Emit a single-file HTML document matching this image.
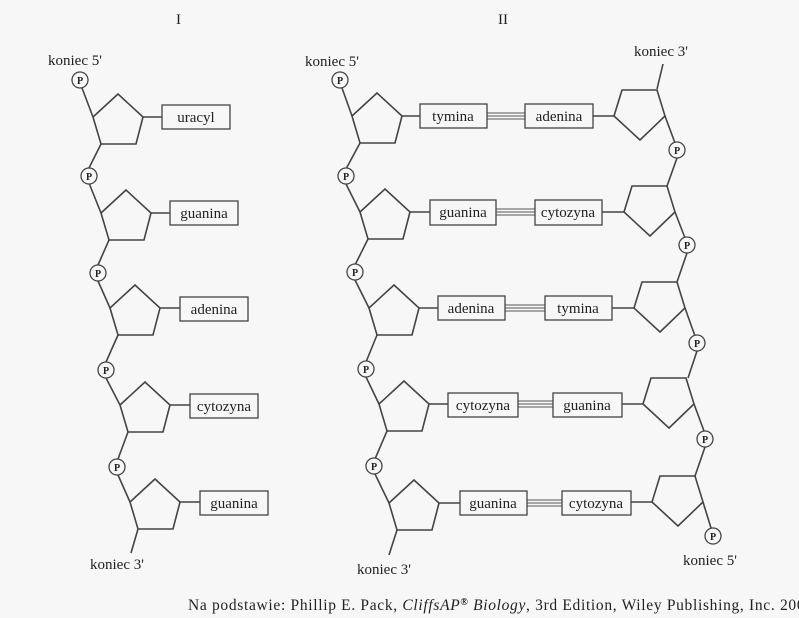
<!DOCTYPE html>
<html><head><meta charset="utf-8"><style>
html,body{margin:0;padding:0;background:#f7f7f7;}
svg{display:block}
text{font-family:"Liberation Serif",serif;fill:#222}
</style></head><body>
<svg width="799" height="618" viewBox="0 0 799 618" xmlns="http://www.w3.org/2000/svg">
<defs>
<g id="L"><polygon points="0,0 25,-23 50,0 43,27 8,27" fill="none" stroke="#444" stroke-width="1.6"/></g>
<g id="R"><polygon points="0,0 8,-26 43,-26 51,0 26,24" fill="none" stroke="#444" stroke-width="1.6"/></g>
</defs>
<rect width="799" height="618" fill="#f7f7f7"/>
<g stroke="#444" stroke-width="1.6" fill="none">
<line x1="82" y1="88" x2="93" y2="117"/><line x1="101" y1="144" x2="89" y2="168"/>
<line x1="89" y1="183" x2="101" y2="213"/><line x1="109" y1="240" x2="98" y2="265"/>
<line x1="98" y1="281" x2="110" y2="308"/><line x1="118" y1="335" x2="106" y2="362"/>
<line x1="106" y1="378" x2="120" y2="405"/><line x1="128" y1="432" x2="118" y2="459"/>
<line x1="118" y1="475" x2="130" y2="502"/><line x1="138" y1="529" x2="131" y2="553"/>
<line x1="143" y1="117" x2="162" y2="117"/><line x1="151" y1="213" x2="170" y2="213"/>
<line x1="160" y1="308" x2="180" y2="308"/><line x1="170" y1="405" x2="190" y2="405"/>
<line x1="180" y1="502" x2="200" y2="502"/>
<line x1="342" y1="88" x2="352" y2="116"/><line x1="360" y1="143" x2="346" y2="169"/>
<line x1="346" y1="184" x2="360" y2="212"/><line x1="368" y1="239" x2="355" y2="265"/>
<line x1="355" y1="280" x2="369" y2="308"/><line x1="377" y1="335" x2="366" y2="362"/>
<line x1="366" y1="377" x2="379" y2="404"/><line x1="387" y1="431" x2="375" y2="459"/>
<line x1="375" y1="474" x2="389" y2="503"/><line x1="397" y1="530" x2="389" y2="555"/>
<line x1="657" y1="89" x2="663" y2="64"/>
<line x1="665" y1="116" x2="675" y2="143"/><line x1="677" y1="158" x2="667" y2="186"/>
<line x1="675" y1="212" x2="685" y2="238"/><line x1="687" y1="253" x2="677" y2="282"/>
<line x1="685" y1="308" x2="695" y2="336"/><line x1="697" y1="351" x2="688" y2="378"/>
<line x1="694" y1="404" x2="704" y2="431"/><line x1="705" y1="447" x2="695" y2="476"/>
<line x1="703" y1="502" x2="711" y2="528"/>
<line x1="402" y1="116" x2="420" y2="116"/><line x1="593" y1="116" x2="614" y2="116"/>
<line x1="410" y1="212" x2="430" y2="212"/><line x1="602" y1="212" x2="624" y2="212"/>
<line x1="419" y1="308" x2="438" y2="308"/><line x1="612" y1="308" x2="634" y2="308"/>
<line x1="429" y1="404" x2="448" y2="404"/><line x1="622" y1="404" x2="643" y2="404"/>
<line x1="439" y1="503" x2="460" y2="503"/><line x1="631" y1="502" x2="652" y2="502"/>
</g>
<g stroke="#555" stroke-width="1">
<line x1="487" y1="113" x2="525" y2="113"/><line x1="487" y1="116" x2="525" y2="116"/><line x1="487" y1="119" x2="525" y2="119"/>
<line x1="496" y1="209" x2="535" y2="209"/><line x1="496" y1="212" x2="535" y2="212"/><line x1="496" y1="215" x2="535" y2="215"/>
<line x1="505" y1="305" x2="545" y2="305"/><line x1="505" y1="308" x2="545" y2="308"/><line x1="505" y1="311" x2="545" y2="311"/>
<line x1="518" y1="401" x2="553" y2="401"/><line x1="518" y1="404" x2="553" y2="404"/><line x1="518" y1="407" x2="553" y2="407"/>
<line x1="527" y1="500" x2="562" y2="500"/><line x1="527" y1="503" x2="562" y2="503"/><line x1="527" y1="506" x2="562" y2="506"/>
</g>
<use href="#L" x="93" y="117"/><use href="#L" x="101" y="213"/><use href="#L" x="110" y="308"/><use href="#L" x="120" y="405"/><use href="#L" x="130" y="502"/>
<use href="#L" x="352" y="116"/><use href="#L" x="360" y="212"/><use href="#L" x="369" y="308"/><use href="#L" x="379" y="404"/><use href="#L" x="389" y="503"/>
<use href="#R" x="614" y="116"/><use href="#R" x="624" y="212"/><use href="#R" x="634" y="308"/><use href="#R" x="643" y="404"/><use href="#R" x="652" y="502"/>
<g fill="#f7f7f7" stroke="#444" stroke-width="1.3">
<rect x="162" y="105" width="68" height="24"/><rect x="170" y="201" width="68" height="24"/>
<rect x="180" y="297" width="68" height="24"/><rect x="190" y="394" width="68" height="24"/>
<rect x="200" y="491" width="68" height="24"/>
<rect x="420" y="104" width="67" height="24"/><rect x="525" y="104" width="68" height="24"/>
<rect x="430" y="200" width="66" height="25"/><rect x="535" y="200" width="67" height="25"/>
<rect x="438" y="296" width="67" height="24"/><rect x="545" y="296" width="67" height="24"/>
<rect x="448" y="393" width="70" height="24"/><rect x="553" y="393" width="69" height="24"/>
<rect x="460" y="491" width="67" height="24"/><rect x="562" y="491" width="69" height="24"/>
</g>
<g font-size="15" text-anchor="middle">
<text x="196" y="122">uracyl</text><text x="204" y="218">guanina</text><text x="214" y="314">adenina</text>
<text x="224" y="411">cytozyna</text><text x="234" y="508">guanina</text>
<text x="453" y="121">tymina</text><text x="559" y="121">adenina</text>
<text x="463" y="217">guanina</text><text x="568" y="217">cytozyna</text>
<text x="471" y="313">adenina</text><text x="578" y="313">tymina</text>
<text x="483" y="410">cytozyna</text><text x="587" y="410">guanina</text>
<text x="493" y="508">guanina</text><text x="596" y="508">cytozyna</text>
</g>
<g fill="#f7f7f7" stroke="#444" stroke-width="1.3">
<circle cx="80" cy="80" r="8"/><circle cx="89" cy="176" r="8"/><circle cx="98" cy="273" r="8"/><circle cx="106" cy="370" r="8"/><circle cx="117" cy="467" r="8"/>
<circle cx="340" cy="80" r="8"/><circle cx="346" cy="176" r="8"/><circle cx="355" cy="272" r="8"/><circle cx="366" cy="369" r="8"/><circle cx="374" cy="466" r="8"/>
<circle cx="677" cy="150" r="8"/><circle cx="687" cy="245" r="8"/><circle cx="697" cy="343" r="8"/><circle cx="705" cy="439" r="8"/><circle cx="713" cy="536" r="8"/>
</g>
<g font-size="10" text-anchor="middle" font-weight="bold" style="font-family:'Liberation Sans',sans-serif">
<text x="80" y="84">P</text><text x="89" y="180">P</text><text x="98" y="277">P</text><text x="106" y="374">P</text><text x="117" y="471">P</text>
<text x="340" y="84">P</text><text x="346" y="180">P</text><text x="355" y="276">P</text><text x="366" y="373">P</text><text x="374" y="470">P</text>
<text x="677" y="154">P</text><text x="687" y="249">P</text><text x="697" y="347">P</text><text x="705" y="443">P</text><text x="713" y="540">P</text>
</g>
<g font-size="15">
<text x="176" y="24">I</text><text x="498" y="24">II</text>
<text x="48" y="65">koniec 5'</text><text x="305" y="66">koniec 5'</text><text x="634" y="56">koniec 3'</text>
<text x="90" y="569">koniec 3'</text><text x="357" y="574">koniec 3'</text><text x="683" y="565">koniec 5'</text>
<text x="188" y="610" font-size="15.5" textLength="625" lengthAdjust="spacing">Na podstawie: Phillip E. Pack, <tspan font-style="italic">CliffsAP<tspan font-size="10" dy="-5" font-style="normal" font-weight="bold">®</tspan><tspan dy="5"> Biology</tspan></tspan>, 3rd Edition, Wiley Publishing, Inc. 2004</text>
</g>
</svg>
</body></html>
